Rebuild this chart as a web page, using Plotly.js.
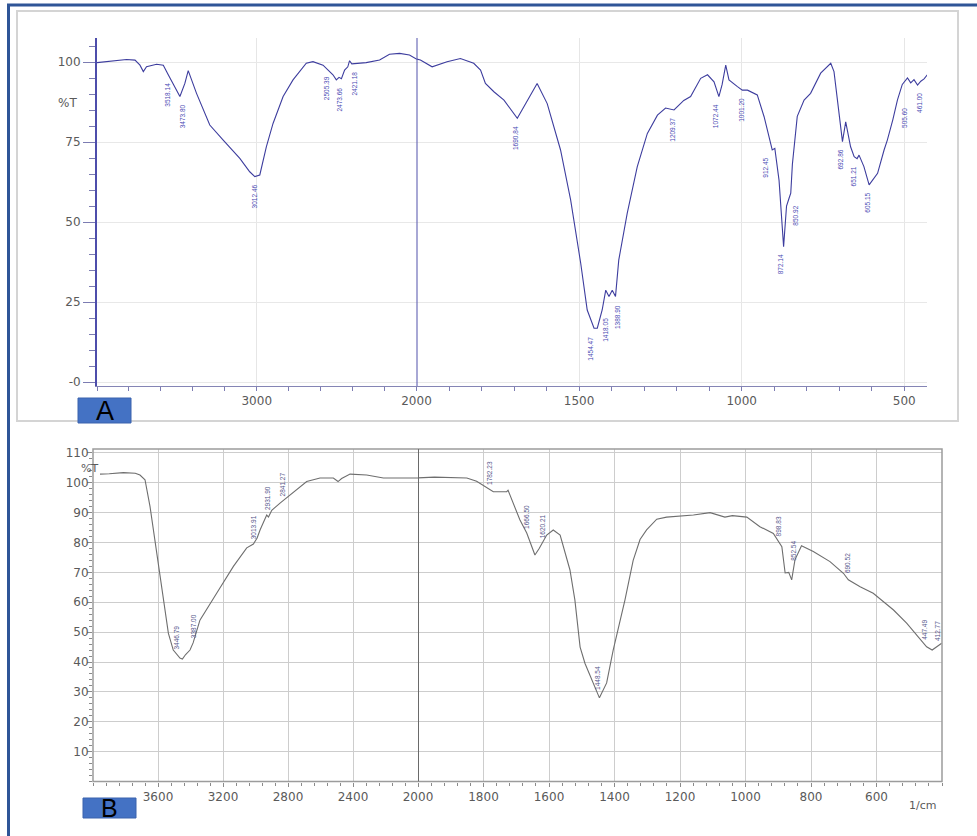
<!DOCTYPE html>
<html>
<head>
<meta charset="utf-8">
<script src="https://cdn.plot.ly/plotly-3.0.1.min.js"></script>
<style>html,body{margin:0;padding:0;background:#fff;}</style>
</head>
<body>
<div id="chart" style="width:977px;height:836px;"></div>
<script>
// ---------- Spectrum A (wavenumber, %T) ----------
const wnA = [
  4000, 3898, 3815, 3762, 3731, 3710, 3690, 3627, 3585, 3554,
  3512, 3500, 3481, 3450, 3429, 3377, 3294, 3210, 3106, 3044,
  3012, 2981, 2940, 2898, 2835, 2773, 2690, 2648, 2585, 2523,
  2502, 2485, 2470, 2450, 2430, 2419, 2405, 2315, 2231, 2169,
  2106, 2044, 1988, 1952, 1906, 1865, 1824, 1803, 1788, 1762,
  1731, 1690, 1659, 1629, 1598, 1557, 1526, 1495, 1475, 1454,
  1444, 1429, 1418, 1408, 1398, 1388, 1378, 1352, 1321, 1290,
  1259, 1234, 1208, 1178, 1157, 1126, 1105, 1085, 1070, 1060,
  1049, 1039, 1013, 998, 982, 970, 952, 931, 906, 898,
  885, 871, 862, 854, 849, 844, 836, 829, 808, 788,
  757, 726, 716, 703, 690, 680, 665, 654, 645, 639,
  624, 608, 582, 562, 552, 535, 521, 506, 490, 480,
  470, 459, 449, 439, 429
];
const tA = [
  99.8, 100.4, 100.8, 100.6, 99, 97, 98.5, 99.3, 99, 96,
  91.8, 91, 89.2, 93.3, 97.3, 90.2, 80.3, 75.6, 69.9, 65.7,
  64.2, 64.7, 73.5, 80.8, 89.2, 94.4, 99.6, 100.1, 99, 96,
  94.4, 95.2, 94.8, 97.5, 98.5, 100.4, 99.4, 99.8, 100.6, 102.4,
  102.7, 102.2, 100.6, 98.5, 100.1, 101.1, 99.6, 97.5, 93.3, 90.7,
  88.1, 82.4, 88.1, 93.3, 87, 72.5, 56.9, 37.1, 22.5, 16.8,
  16.8, 22.5, 28.7, 26.7, 28.7, 26.7, 38.1, 52.7, 67.3, 77.7,
  83.4, 85.6, 85, 88, 89.2, 94.9, 96, 93.8, 89.2, 93,
  99, 94.4, 92.3, 91.2, 91.2, 90.6, 89.7, 82.9, 72.5, 73,
  63, 42.3, 55, 57.5, 59, 68, 77, 83, 88.1, 90.2,
  96.5, 99.6, 97, 86, 75.1, 81.3, 73.5, 70.4, 69.8, 70.9,
  67.3, 61.6, 65.2, 72.5, 75.6, 82, 88.1, 93, 95, 93.5,
  94.5, 92.8, 94, 94.7, 96
];
const peakWnA = [3556, 3463, 3012, 2563, 2481, 2387, 1695, 1465, 1418, 1382, 1212, 1080, 1003, 926, 880, 834, 695, 655, 612, 501, 455];
const peakTextA = ["3518.14", "3473.80", "3012.46", "2505.39", "2473.66", "2421.18", "1690.84", "1454.47", "1418.05", "1388.90", "1209.37", "1072.44", "1001.20", "912.45", "872.14", "850.92", "692.86", "651.21", "605.15", "505.60", "461.00"];

// ---------- Spectrum B (wavenumber, %T) ----------
const wnB = [
  3957, 3900, 3813, 3740, 3711, 3680, 3649, 3608, 3563, 3536,
  3506, 3465, 3450, 3430, 3403, 3384, 3342, 3262, 3239, 3136,
  3054, 3013, 2990, 2972, 2945, 2931, 2920, 2900, 2849, 2788,
  2685, 2603, 2521, 2492, 2470, 2418, 2316, 2213, 2100, 2008,
  1950, 1851, 1821, 1800, 1780, 1770, 1729, 1725, 1689, 1668,
  1643, 1630, 1607, 1587, 1566, 1536, 1521, 1505, 1490, 1460,
  1446, 1424, 1404, 1368, 1343, 1322, 1302, 1271, 1241, 1159,
  1108, 1063, 1040, 996, 956, 915, 889, 879, 868, 859,
  849, 829, 793, 742, 701, 686, 650, 610, 548, 508,
  477, 447, 430, 416, 401
];
const tB = [
  102.9, 103, 103.4, 103.2, 102.6, 101, 92, 76.5, 60.8, 49.6,
  44, 41.3, 41, 42.5, 44, 46.4, 54, 60.8, 63, 72,
  78.2, 79.5, 81.5, 84.2, 87.5, 89.2, 88.5, 90.8, 93.2, 96,
  100.4, 101.6, 101.6, 100.4, 101.4, 102.9, 102.6, 101.6, 101.6, 101.6,
  101.9, 101.6, 100.5, 99, 97.6, 97, 97, 97.5, 87.6, 83.2,
  75.8, 78, 82.5, 84.2, 82.5, 70.8, 60.8, 45, 39.5, 31.6,
  28, 33, 44, 60.8, 74, 81, 84.2, 87.8, 88.5, 89.2,
  90, 88.5, 89, 88.5, 85.3, 83, 78.6, 69.8, 70, 67.5,
  74.2, 78.9, 77, 73.6, 69.7, 67.5, 65.2, 63, 57.4, 53,
  49, 45.1, 44, 45, 46.3
];
const peakWnB = [3483, 3385, 3015, 2930, 2837, 1780, 1667, 1621, 1450, 900, 852, 690, 452, 413];
const peakTextB = ["3446.79", "3387.00", "3013.91", "2931.90", "2841.27", "1782.23", "1666.50", "1620.21", "1448.54", "898.83", "852.54", "690.52", "447.49", "412.77"];

// tick labels
const tickA_hi = [3000];
const tickA_lo = [2000, 1500, 1000, 500];
const tickA_y = [0, 25, 50, 75, 100];
const tickA_yText = ["-0", "25", "50", "75", "100"];
const tickB_hi = [3600, 3200, 2800, 2400];
const tickB_lo = [2000, 1800, 1600, 1400, 1200, 1000, 800, 600];
const tickB_y = [10, 20, 30, 40, 50, 60, 70, 80, 90, 100, 110];

// ---------- helpers ----------
const W = 977, H = 836;
const px = x => x / W;
const py = y => 1 - y / H;
function curveAt(ws, ts, w) {
  for (let i = 0; i < ws.length - 1; i++) {
    if (ws[i] >= w && w >= ws[i + 1]) {
      const f = (ws[i] - w) / (ws[i] - ws[i + 1]);
      return ts[i] + f * (ts[i + 1] - ts[i]);
    }
  }
  return ts[ts.length - 1];
}
function minNear(ws, ts, w, win) {
  let m = curveAt(ws, ts, w);
  for (let i = 0; i < ws.length; i++) if (Math.abs(ws[i] - w) <= win) m = Math.min(m, ts[i]);
  return m;
}

const colA = '#3d3d9e', colB = '#6e6e6e';
const tickFont = {family: 'DejaVu Sans, Arial, sans-serif', size: 12, color: '#5a5a5a'};

const traces = [
  {x: wnA, y: tA, xaxis: 'x', yaxis: 'y', mode: 'lines', line: {color: colA, width: 1.1}, hoverinfo: 'skip'},
  {x: wnA, y: tA, xaxis: 'x2', yaxis: 'y', mode: 'lines', line: {color: colA, width: 1.1}, hoverinfo: 'skip'},
  {x: wnB, y: tB, xaxis: 'x3', yaxis: 'y2', mode: 'lines', line: {color: colB, width: 1.1}, hoverinfo: 'skip'},
  {x: wnB, y: tB, xaxis: 'x4', yaxis: 'y2', mode: 'lines', line: {color: colB, width: 1.1}, hoverinfo: 'skip'}
];

const yA = [-1.25, 107.5];
const yB = [0, 111.3];

const annotations = [];
peakWnA.forEach((w, i) => {
  annotations.push({
    xref: w > 2000 ? 'x' : 'x2', yref: 'y', x: w, y: minNear(wnA, tA, w, 25),
    text: peakTextA[i], showarrow: false, textangle: -90,
    xanchor: 'center', yanchor: 'top', yshift: -6,
    font: {family: 'Liberation Sans, Arial, sans-serif', size: 6.5, color: '#4a4ab4'}
  });
});
peakWnB.forEach((w, i) => {
  annotations.push({
    xref: w > 2000 ? 'x3' : 'x4', yref: 'y2', x: w, y: curveAt(wnB, tB, w),
    text: peakTextB[i], showarrow: false, textangle: -90,
    xanchor: 'center', yanchor: 'bottom', yshift: 3,
    font: {family: 'Liberation Sans, Arial, sans-serif', size: 6.5, color: '#55558a'}
  });
});
annotations.push(
  {xref: 'paper', yref: 'paper', x: px(79), y: py(103), text: '%T', showarrow: false, xanchor: 'right', yanchor: 'middle', font: tickFont},
  {xref: 'paper', yref: 'paper', x: px(100), y: py(469), text: '%T', showarrow: false, xanchor: 'right', yanchor: 'middle', font: {family: tickFont.family, size: 11, color: '#5a5a5a'}},
  {xref: 'paper', yref: 'paper', x: px(922), y: py(805), text: '1/cm', showarrow: false, xanchor: 'center', yanchor: 'middle', font: {family: tickFont.family, size: 11, color: '#5a5a5a'}},
  {xref: 'paper', yref: 'paper', x: px(104.5), y: py(411), text: 'A', showarrow: false, xanchor: 'center', yanchor: 'middle', font: {family: 'Liberation Sans, Arial, sans-serif', size: 27, color: '#000'}},
  {xref: 'paper', yref: 'paper', x: px(109.5), y: py(808), text: 'B', showarrow: false, xanchor: 'center', yanchor: 'middle', font: {family: 'Liberation Sans, Arial, sans-serif', size: 25, color: '#000'}}
);

const shapes = [
  // outer blue border (top & left)
  {type: 'line', xref: 'paper', yref: 'paper', x0: px(7), x1: 1, y0: py(5), y1: py(5), line: {color: '#2F5597', width: 3}, layer: 'above'},
  {type: 'line', xref: 'paper', yref: 'paper', x0: px(8.5), x1: px(8.5), y0: py(4), y1: 0, line: {color: '#2F5597', width: 3}, layer: 'above'},
  // panel A box
  {type: 'rect', xref: 'paper', yref: 'paper', x0: px(17), x1: px(958), y0: py(421), y1: py(11), line: {color: '#d4d4d4', width: 2}, layer: 'below'},
  // divider at 2000 in A
  {type: 'line', xref: 'x2', yref: 'y', x0: 2000, x1: 2000, y0: yA[0], y1: yA[1], line: {color: '#5353ab', width: 2}, layer: 'above'},
  // frame B
  {type: 'rect', xref: 'paper', yref: 'paper', x0: px(93), x1: px(942), y0: py(781.5), y1: py(449), line: {color: '#9c9c9c', width: 1.5}, layer: 'above'},
  // divider at 2000 in B
  {type: 'line', xref: 'x4', yref: 'y2', x0: 2000, x1: 2000, y0: yB[0], y1: yB[1], line: {color: '#6a6a6a', width: 2}, layer: 'above'},
  // label boxes
  {type: 'rect', xref: 'paper', yref: 'paper', x0: px(78), x1: px(131), y0: py(423), y1: py(398), fillcolor: '#4472C4', line: {color: '#3a62ad', width: 1}, layer: 'above'},
  {type: 'rect', xref: 'paper', yref: 'paper', x0: px(83), x1: px(136), y0: py(818), y1: py(798), fillcolor: '#4472C4', line: {color: '#3a62ad', width: 1}, layer: 'above'}
];

const tickColA = '#7c7cb2', tickColB = '#8a8a8a';
const layout = {
  width: W, height: H,
  margin: {l: 0, r: 0, t: 0, b: 0},
  paper_bgcolor: '#ffffff', plot_bgcolor: 'rgba(0,0,0,0)',
  showlegend: false,
  xaxis: {
    domain: [px(97), px(416.5)], range: [4000, 2000], anchor: 'y',
    tickmode: 'array', tickvals: tickA_hi, ticks: 'outside', ticklen: 4, tickcolor: tickColA,
    showgrid: true, gridcolor: '#e6e6e6', zeroline: false,
    showline: true, linecolor: '#8585b5', linewidth: 1, tickfont: tickFont,
    minor: {tickmode: 'linear', tick0: 0, dtick: 200, ticks: 'outside', ticklen: 4, tickcolor: tickColA, showgrid: false}
  },
  xaxis2: {
    domain: [px(416.5), px(927)], range: [2000, 430], anchor: 'y',
    tickmode: 'array', tickvals: tickA_lo, ticks: 'outside', ticklen: 4, tickcolor: tickColA,
    showgrid: true, gridcolor: '#e6e6e6', zeroline: false,
    showline: true, linecolor: '#8585b5', linewidth: 1, tickfont: tickFont,
    minor: {tickmode: 'linear', tick0: 0, dtick: 100, ticks: 'outside', ticklen: 4, tickcolor: tickColA, showgrid: false}
  },
  yaxis: {
    domain: [py(386), py(38)], range: yA, anchor: 'x',
    tickmode: 'array', tickvals: tickA_y, ticktext: tickA_yText,
    ticks: 'outside', ticklen: 12, tickcolor: tickColA,
    showgrid: true, gridcolor: '#e8e8e8', zeroline: false,
    showline: true, linecolor: '#4d4dab', linewidth: 2, tickfont: tickFont,
    minor: {tickmode: 'linear', tick0: 0, dtick: 5, ticks: 'outside', ticklen: 6, tickcolor: tickColA, showgrid: false}
  },
  xaxis3: {
    domain: [px(93), px(418)], range: [4000, 2000], anchor: 'y2',
    tickmode: 'array', tickvals: tickB_hi, ticks: 'outside', ticklen: 4, tickcolor: tickColB,
    showgrid: true, gridcolor: '#cdcdcd', zeroline: false, showline: false, tickfont: tickFont,
    minor: {tickmode: 'linear', tick0: 0, dtick: 80, ticks: 'outside', ticklen: 3, tickcolor: tickColB, showgrid: false}
  },
  xaxis4: {
    domain: [px(418), px(942)], range: [2000, 400], anchor: 'y2',
    tickmode: 'array', tickvals: tickB_lo, ticks: 'outside', ticklen: 4, tickcolor: tickColB,
    showgrid: true, gridcolor: '#cdcdcd', zeroline: false, showline: false, tickfont: tickFont,
    minor: {tickmode: 'linear', tick0: 0, dtick: 40, ticks: 'outside', ticklen: 3, tickcolor: tickColB, showgrid: false}
  },
  yaxis2: {
    domain: [py(781.5), py(449)], range: yB, anchor: 'x3',
    tickmode: 'array', tickvals: tickB_y, ticks: 'outside', ticklen: 5, tickcolor: tickColB,
    showgrid: true, gridcolor: '#cdcdcd', zeroline: false, showline: false, tickfont: tickFont,
    ticklabelstandoff: -4,
    minor: {tickmode: 'linear', tick0: 0, dtick: 2, ticks: 'outside', ticklen: 3, tickcolor: tickColB, showgrid: false}
  },
  shapes: shapes,
  annotations: annotations
};

Plotly.newPlot('chart', traces, layout, {displayModeBar: false, staticPlot: true});
</script>
</body>
</html>
